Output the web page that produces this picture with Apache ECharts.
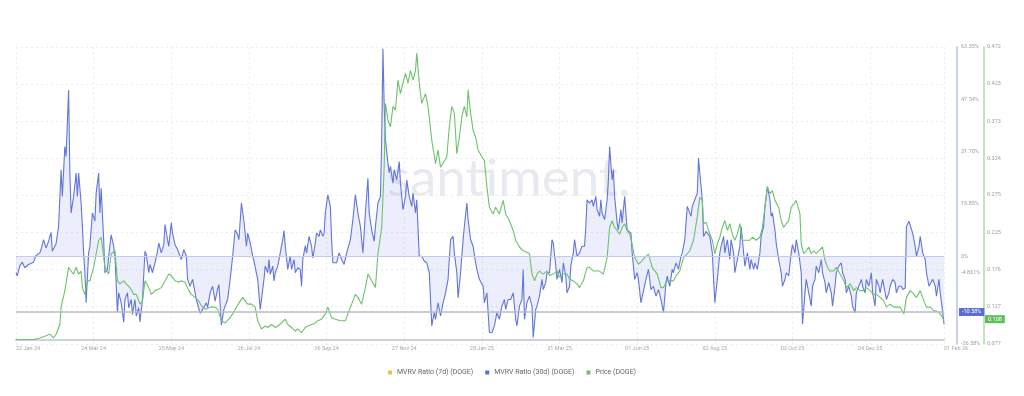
<!DOCTYPE html>
<html>
<head>
<meta charset="utf-8">
<script src="https://cdn.jsdelivr.net/npm/echarts@6/dist/echarts.min.js"></script>
<style>
html,body{margin:0;padding:0;background:#fff;}
#chart{width:1024px;height:396px;}
</style>
</head>
<body>
<div id="chart"></div>
<script>
// x axis: days since 22 Jan 2024
const xMax = 741;
const xInterval = 62;
const xTickLabels = ['22 Jan 24','24 Mar 24','25 May 24','26 Jul 24','26 Sep 24','27 Nov 24','28 Jan 25','31 Mar 25','01 Jun 25','02 Aug 25','03 Oct 25','04 Dec 25','01 Feb 26'];

const mvrvTicks = [-26.58, -4.861, 0, 15.85, 31.70, 47.54, 63.35];
const mvrvTickLabels = ['-26.58%','-4.861%','0%','15.85%','31.70%','47.54%','63.35%'];
const priceTicks = [0.077, 0.127, 0.176, 0.225, 0.275, 0.324, 0.373, 0.423, 0.472];

const lastMvrvLabel = '-10.58%';
const mvrvRefLine = -16.9;
const lastPrice = 0.108;

const seriesNames = ['MVRV Ratio (7d) (DOGE)', 'MVRV Ratio (30d) (DOGE)', 'Price (DOGE)'];

// [day, MVRV %]
const mvrv30d = [[0,-5.0],[1,-6.0],[3,-3.0],[5,-1.8],[7,-3.5],[10,-2.5],[14,-1.8],[16,0.2],[19,1.0],[20,2.0],[22,5.0],[24,2.5],[26,4.5],[28,7.2],[29,1.5],[32,3.8],[34,9.0],[36,26.2],[37,18.1],[39,33.2],[40,30.2],[42,50.3],[43,25.2],[44,13.1],[46,18.1],[48,25.2],[49,18.1],[50,25.2],[52,16.1],[53,9.0],[54,1.0],[55,-5.0],[56,-14.1],[58,1.0],[59,3.0],[61,13.1],[63,10.6],[64,19.1],[66,25.2],[67,13.1],[68,20.6],[70,5.0],[71,-5.0],[73,-4.0],[74,0],[76,6.5],[78,3.0],[79,0],[81,-17.0],[82,-11.1],[84,-14.1],[86,-20.0],[87,-13.1],[89,-11.1],[90,-15.6],[92,-13.1],[93,-17.6],[95,-13.1],[96,-18.1],[98,-15.6],[99,-19.9],[101,-13.1],[103,1.5],[104,0.5],[106,-5.0],[107,-2.5],[109,-5.0],[111,-2.0],[113,1.5],[114,4.0],[116,1.0],[118,3.5],[119,9.6],[121,5.0],[122,3.0],[124,10.1],[125,7.0],[127,3.5],[129,2.0],[131,0],[132,-1.0],[134,2.0],[136,0],[137,-7.0],[139,-9.1],[141,-7.0],[144,-13.1],[147,-17.3],[149,-16.1],[152,-14.1],[153,-15.6],[155,-11.1],[157,-9.1],[159,-13.6],[161,-9.9],[162,-8.6],[163,-14.6],[164,-20.9],[166,-16.1],[169,-13.1],[171,-7.0],[173,0],[175,8.0],[177,6.5],[178,5.0],[180,16.1],[182,10.6],[184,3.0],[185,7.0],[187,4.0],[189,0],[190,-1.5],[193,-7.0],[195,-16.1],[196,-13.1],[198,-7.0],[199,-3.0],[201,-5.0],[202,-1.0],[203,-5.5],[205,-3.0],[206,-7.5],[207,-5.0],[209,-3.0],[211,1.0],[213,5.0],[214,7.8],[215,3.0],[217,-4.0],[219,0],[220,-4.0],[222,-1.0],[223,-5.0],[225,-3.5],[227,-4.0],[228,-9.1],[229,-1.0],[231,3.2],[232,1.0],[234,6.0],[236,3.0],[237,-0.5],[239,4.0],[240,7.0],[242,6.0],[243,8.0],[245,6.0],[246,7.0],[247,13.1],[249,18.6],[251,15.1],[252,5.0],
[253,-2.0],[256,-2.0],[258,1.0],[260,-1.0],[262,-2.5],[264,1.0],[267,5.0],[269,11.1],[271,18.6],[273,13.1],[275,9.0],[277,1.0],[279,13.1],[281,23.6],[282,13.1],[284,8.0],[286,4.5],[287,9.0],[289,16.1],[291,18.1],[292,35.2],[293,62.8],[294,45.3],[295,35.2],[297,28.2],[298,25.2],[299,27.2],[301,22.1],[302,26.2],[304,23.1],[306,28.7],[307,22.1],[309,14.1],[311,18.1],[312,23.1],[314,18.1],[316,15.1],[317,19.1],[319,13.1],[320,17.1],[322,0],[324,0],[326,-1.5],[328,-2.0],[330,-5.0],[332,-21.1],[334,-17.1],[335,-19.1],[337,-14.1],[339,-18.1],[341,-14.1],[343,-11.1],[345,-7.0],[347,5.0],[349,6.0],[350,1.0],[352,-5.0],[353,-12.6],[355,-5.0],[357,5.0],[358,9.0],[360,16.1],[361,11.1],[363,5.0],[365,3.0],[367,-2.0],[368,-4.0],[370,-7.0],[373,-9.1],[374,-14.1],[376,-11.1],[378,-23.1],[380,-23.1],[382,-21.1],[384,-17.1],[386,-19.1],[388,-15.1],[390,-13.1],[391,-16.1],[393,-13.1],[395,-13.1],[397,-11.1],[399,-19.1],[400,-21.1],[402,-15.1],[404,-13.1],[405,-4.0],[406,-19.1],[408,-14.1],[410,-12.1],[412,-15.1],[413,-24.6],[415,-16.1],[416,-15.1],[418,-12.1],[420,-7.0],[421,-10.1],[423,-8.0],[424,-5.0],[426,-5.0],[428,5.0],[429,4.0],[431,-3.0],[432,-7.0],[434,-4.0],[436,-8.0],[437,-2.0],[439,-6.0],[440,-11.1],[442,-9.1],[443,-3.0],[445,1.0],[446,5.0],[448,0],[450,1.0],[452,3.0],[454,3.0],[455,9.0],[456,17.1],[458,16.1],[460,17.1],[461,15.1],[463,18.1],[464,14.1],[466,12.1],[467,17.1],[468,13.1],[470,11.1],[472,17.1],[473,23.1],[474,33.2],[476,23.1],[477,26.2],[478,18.1],[480,10.1],[481,8.0],[483,14.1],[484,10.1],[486,18.1],[488,8.0],[489,8.0],[491,7.0],[492,1.0],[494,-7.0],[496,-5.0],[497,-7.0],[499,-14.1],
[503,-7.0],[505,-4.0],[507,-10.1],[509,-9.1],[511,-12.1],[513,-10.1],[515,-13.1],[517,-17.1],[519,-8.0],[520,-6.0],[522,-9.1],[524,-4.0],[525,-5.0],[527,-2.0],[529,-4.0],[531,0],[532,1.0],[534,5.0],[536,15.1],[537,14.1],[539,12.1],[540,15.1],[542,17.1],[544,19.1],[545,29.7],[546,25.2],[548,17.1],[549,6.0],[551,7.5],[552,8.0],[554,6.0],[556,1.0],[557,-7.0],[558,-14.1],[560,-7.0],[562,1.0],[563,3.0],[565,6.0],[566,1.0],[568,5.0],[570,-1.0],[571,5.0],[573,1.0],[574,-5.0],[576,-1.0],[578,3.0],[579,9.0],[581,1.0],[582,-3.0],[584,1.0],[586,-4.0],[587,-1.0],[589,-4.0],[590,-2.0],[592,-4.0],[594,1.0],[595,6.0],[597,9.0],[598,15.1],[600,21.1],[602,17.1],[603,12.1],[604,13.1],[606,8.0],[607,4.0],[609,-1.0],[611,-5.0],[612,-9.1],[614,-7.0],[615,-5.0],[617,-6.0],[619,1.0],[620,3.5],[622,1.0],[623,5.0],[625,1.0],[627,-5.0],[628,-20.6],[630,-11.1],[631,-7.0],[633,-11.1],[635,-15.1],[636,-9.1],[638,-7.0],[639,-3.0],[641,-5.0],[643,-1.0],[644,-5.0],[646,-8.0],[647,-11.1],[649,-8.0],[651,-11.1],[652,-15.1],[654,-9.1],[655,-5.0],[657,-3.0],[659,-2.0],[660,-5.0],[662,-7.0],[663,-11.1],[665,-9.1],[667,-12.1],[668,-15.1],[670,-17.1],[671,-11.1],[673,-9.1],[675,-7.0],[676,-9.1],[678,-11.1],[679,-7.0],[681,-9.1],[683,-5.0],[684,-11.1],[686,-15.1],[687,-7.0],[689,-9.1],[690,-11.1],[692,-7.0],[694,-11.1],[695,-13.1],[697,-11.1],[698,-9.1],[700,-7.0],[702,-8.0],[703,-11.1],[705,-9.1],[707,-9.1],[708,-10.1],[710,-9.6],[711,9.0],[713,10.6],[714,10.1],[716,7.0],[718,3.0],[719,0],[721,3.0],[722,6.0],[724,1.0],[726,-1.0],[727,-5.0],[729,-9.1],[730,-9.1],[732,-7.0],[734,-9.1],[735,-12.1],[737,-7.0],[738,-11.1],[740,-17.1],[741,-20.6]];

// [day, USD]
const priceDoge = [[0,0.083],[3,0.083],[14,0.083],[19,0.085],[24,0.088],[27,0.090],[30,0.085],[32,0.090],[35,0.103],[36,0.126],[39,0.148],[42,0.179],[44,0.174],[46,0.170],[48,0.179],[50,0.170],[52,0.174],[53,0.152],[55,0.143],[57,0.161],[59,0.161],[62,0.179],[64,0.197],[66,0.215],[68,0.219],[69,0.206],[71,0.179],[74,0.170],[76,0.197],[79,0.201],[81,0.161],[83,0.157],[86,0.161],[88,0.157],[91,0.152],[94,0.143],[96,0.143],[99,0.130],[101,0.134],[103,0.161],[106,0.152],[108,0.143],[111,0.148],[114,0.150],[116,0.152],[119,0.161],[122,0.170],[124,0.168],[127,0.161],[130,0.159],[132,0.161],[135,0.159],[138,0.148],[140,0.143],[143,0.139],[146,0.134],[148,0.128],[151,0.123],[155,0.126],[159,0.126],[161,0.123],[164,0.108],[167,0.105],[171,0.112],[173,0.117],[176,0.126],[179,0.134],[181,0.139],[183,0.134],[185,0.130],[188,0.130],[191,0.126],[193,0.108],[196,0.097],[199,0.101],[201,0.099],[204,0.103],[207,0.099],[209,0.101],[212,0.105],[215,0.110],[217,0.103],[220,0.099],[223,0.094],[225,0.097],[228,0.092],[231,0.099],[233,0.101],[236,0.103],[239,0.105],[241,0.108],[244,0.110],[247,0.117],[249,0.126],[252,0.112],[255,0.110],[259,0.108],
[263,0.108],[265,0.117],[268,0.130],[271,0.143],[273,0.139],[276,0.130],[279,0.152],[281,0.170],[284,0.161],[287,0.152],[289,0.197],[292,0.232],[294,0.312],[295,0.397],[297,0.375],[299,0.366],[301,0.393],[303,0.388],[305,0.428],[307,0.410],[309,0.424],[311,0.437],[313,0.424],[315,0.441],[317,0.428],[319,0.441],[320,0.464],[322,0.424],[324,0.397],[327,0.410],[329,0.393],[332,0.348],[335,0.317],[337,0.335],[339,0.312],[341,0.317],[344,0.326],[346,0.366],[348,0.393],[350,0.384],[352,0.330],[354,0.352],[356,0.379],[358,0.393],[360,0.379],[361,0.415],[363,0.384],[365,0.361],[367,0.352],[369,0.335],[372,0.326],[374,0.321],[376,0.286],[378,0.259],[381,0.250],[383,0.259],[386,0.250],[389,0.268],[391,0.250],[394,0.241],[397,0.228],[399,0.215],[402,0.206],[405,0.201],[408,0.199],[410,0.197],[412,0.170],[414,0.161],[416,0.170],[418,0.174],[421,0.170],[424,0.174],[426,0.168],[429,0.170],[432,0.174],[434,0.166],[437,0.170],[440,0.170],[442,0.163],[445,0.161],[448,0.157],[450,0.152],[453,0.161],[456,0.179],[458,0.179],[461,0.174],[464,0.174],[466,0.174],[469,0.170],[472,0.192],[474,0.232],[476,0.241],[478,0.232],[480,0.228],[482,0.223],[484,0.232],[486,0.237],[488,0.228],[490,0.223],[492,0.210],[494,0.192],[497,0.183],[500,0.188],[502,0.192],[505,0.197],
[508,0.179],[512,0.170],[515,0.152],[517,0.152],[520,0.161],[522,0.161],[525,0.161],[528,0.170],[530,0.174],[533,0.192],[536,0.197],[538,0.201],[541,0.215],[544,0.246],[546,0.272],[548,0.268],[549,0.237],[551,0.239],[553,0.228],[556,0.215],[558,0.197],[560,0.210],[562,0.219],[564,0.232],[566,0.241],[568,0.228],[570,0.237],[572,0.223],[574,0.215],[576,0.223],[578,0.237],[580,0.215],[583,0.215],[586,0.215],[588,0.219],[591,0.215],[594,0.219],[596,0.232],[598,0.259],[600,0.286],[602,0.277],[604,0.281],[606,0.268],[609,0.259],[611,0.241],[613,0.232],[615,0.237],[617,0.241],[619,0.259],[621,0.263],[623,0.268],[626,0.250],[627,0.210],[629,0.197],[631,0.201],[633,0.206],[635,0.197],[637,0.201],[639,0.197],[641,0.201],[644,0.206],[646,0.188],[648,0.179],[650,0.174],[653,0.174],[655,0.179],[658,0.170],[661,0.161],[663,0.152],[666,0.157],[669,0.148],[671,0.152],[674,0.148],[677,0.148],[679,0.152],[682,0.148],[685,0.143],[687,0.143],[690,0.139],[693,0.134],[695,0.126],[698,0.130],[701,0.126],[703,0.126],[706,0.126],[709,0.117],[711,0.139],[714,0.148],[717,0.143],[719,0.139],[722,0.148],[725,0.134],[727,0.126],[730,0.126],[733,0.121],[735,0.121],[738,0.117],[740,0.112],[741,0.108]];

const mvrv7d = [];

const FONT = 'Roboto, "Noto Sans", sans-serif';
const chart = echarts.init(document.getElementById('chart'), null, {renderer: 'canvas'});

chart.setOption({
  animation: false,
  backgroundColor: '#ffffff',
  textStyle: {fontFamily: FONT},
  graphic: [{
    type: 'text',
    left: 387,
    top: 152,
    z: 0,
    silent: true,
    style: {
      text: 'santiment.',
      fontSize: 53,
      fontWeight: 400,
      fontFamily: 'Lato, "Open Sans", sans-serif',
      fill: 'rgba(205,208,222,0.45)'
    }
  }],
  legend: {
    top: 364,
    left: 'center',
    icon: 'rect',
    itemWidth: 4,
    itemHeight: 4,
    itemGap: 12,
    textStyle: {fontSize: 7, color: '#666', fontFamily: FONT},
    data: seriesNames
  },
  grid: {left: 16, right: 80, top: 47, bottom: 52},
  xAxis: {
    type: 'value',
    min: 0,
    max: xMax,
    interval: xInterval,
    offset: -4,
    axisLine: {show: true, onZero: false, lineStyle: {color: '#cfd0d8', width: 2}},
    axisTick: {show: false},
    splitLine: {show: true, lineStyle: {color: '#ececec', type: [2, 3], width: 1}},
    axisLabel: {
      fontSize: 5.5,
      color: '#a8a8a8',
      margin: 6,
      alignMinLabel: 'left',
      alignMaxLabel: 'left',
      showMinLabel: true,
      showMaxLabel: true,
      formatter: function (v) {
        if (v === xMax) return xTickLabels[xTickLabels.length - 1];
        return xTickLabels[Math.round(v / xInterval)];
      }
    }
  },
  yAxis: [{
    type: 'value',
    position: 'right',
    min: mvrvTicks[0],
    max: mvrvTicks[mvrvTicks.length - 1],
    offset: 13,
    axisLine: {show: true, onZero: false, lineStyle: {color: '#b7bfee', width: 1.5}},
    axisTick: {show: false, customValues: mvrvTicks},
    splitLine: {show: false},
    axisLabel: {
      customValues: mvrvTicks,
      fontSize: 5.5,
      color: '#a0a0a0',
      margin: 4,
      formatter: function (v) {
        let best = 0;
        for (let i = 1; i < mvrvTicks.length; i++) {
          if (Math.abs(mvrvTicks[i] - v) < Math.abs(mvrvTicks[best] - v)) best = i;
        }
        return mvrvTickLabels[best];
      }
    }
  }, {
    type: 'value',
    position: 'right',
    min: priceTicks[0],
    max: priceTicks[priceTicks.length - 1],
    offset: 40,
    axisLine: {show: true, onZero: false, lineStyle: {color: '#abdca6', width: 1.5}},
    axisTick: {show: false, customValues: priceTicks},
    splitLine: {show: true, lineStyle: {color: '#ececec', type: [2, 3], width: 1}},
    axisLabel: {
      customValues: priceTicks,
      fontSize: 5.5,
      color: '#a0a0a0',
      margin: 3,
      formatter: function (v) { return v.toFixed(3); }
    }
  }],
  series: [{
    name: seriesNames[0],
    type: 'line',
    yAxisIndex: 0,
    data: mvrv7d,
    showSymbol: false,
    itemStyle: {color: '#e6c34a'},
    lineStyle: {color: '#e6c34a', width: 1}
  }, {
    name: seriesNames[1],
    type: 'line',
    yAxisIndex: 0,
    data: mvrv30d,
    showSymbol: false,
    symbol: 'none',
    z: 3,
    itemStyle: {color: '#5b6fd6'},
    lineStyle: {color: '#6275d8', width: 1.1},
    areaStyle: {origin: 0, color: 'rgba(120,135,228,0.2)'},
    markLine: {
      silent: true,
      symbol: 'none',
      animation: false,
      data: [{
        yAxis: 0,
        lineStyle: {color: '#c3caf1', width: 1, type: 'solid'},
        label: {show: false}
      }, {
        yAxis: mvrvRefLine,
        lineStyle: {color: '#b9bac4', width: 1.5, type: 'solid'},
        label: {
          show: true,
          position: 'end',
          distance: 15,
          formatter: lastMvrvLabel,
          fontSize: 5.5,
          color: '#ffffff',
          backgroundColor: '#5a6cd8',
          padding: [1, 3]
        }
      }]
    }
  }, {
    name: seriesNames[2],
    type: 'line',
    yAxisIndex: 1,
    data: priceDoge,
    showSymbol: false,
    symbol: 'none',
    z: 4,
    itemStyle: {color: '#6cc26a'},
    lineStyle: {color: '#6cc26a', width: 1.1},
    markLine: {
      silent: true,
      symbol: 'none',
      animation: false,
      data: [{
        yAxis: lastPrice,
        lineStyle: {color: 'rgba(0,0,0,0)', width: 0},
        label: {
          show: true,
          position: 'end',
          distance: 41,
          formatter: lastPrice.toFixed(3),
          fontSize: 5.5,
          color: '#ffffff',
          backgroundColor: '#5fbd5d',
          padding: [1, 3]
        }
      }]
    }
  }]
});
</script>
</body>
</html>
